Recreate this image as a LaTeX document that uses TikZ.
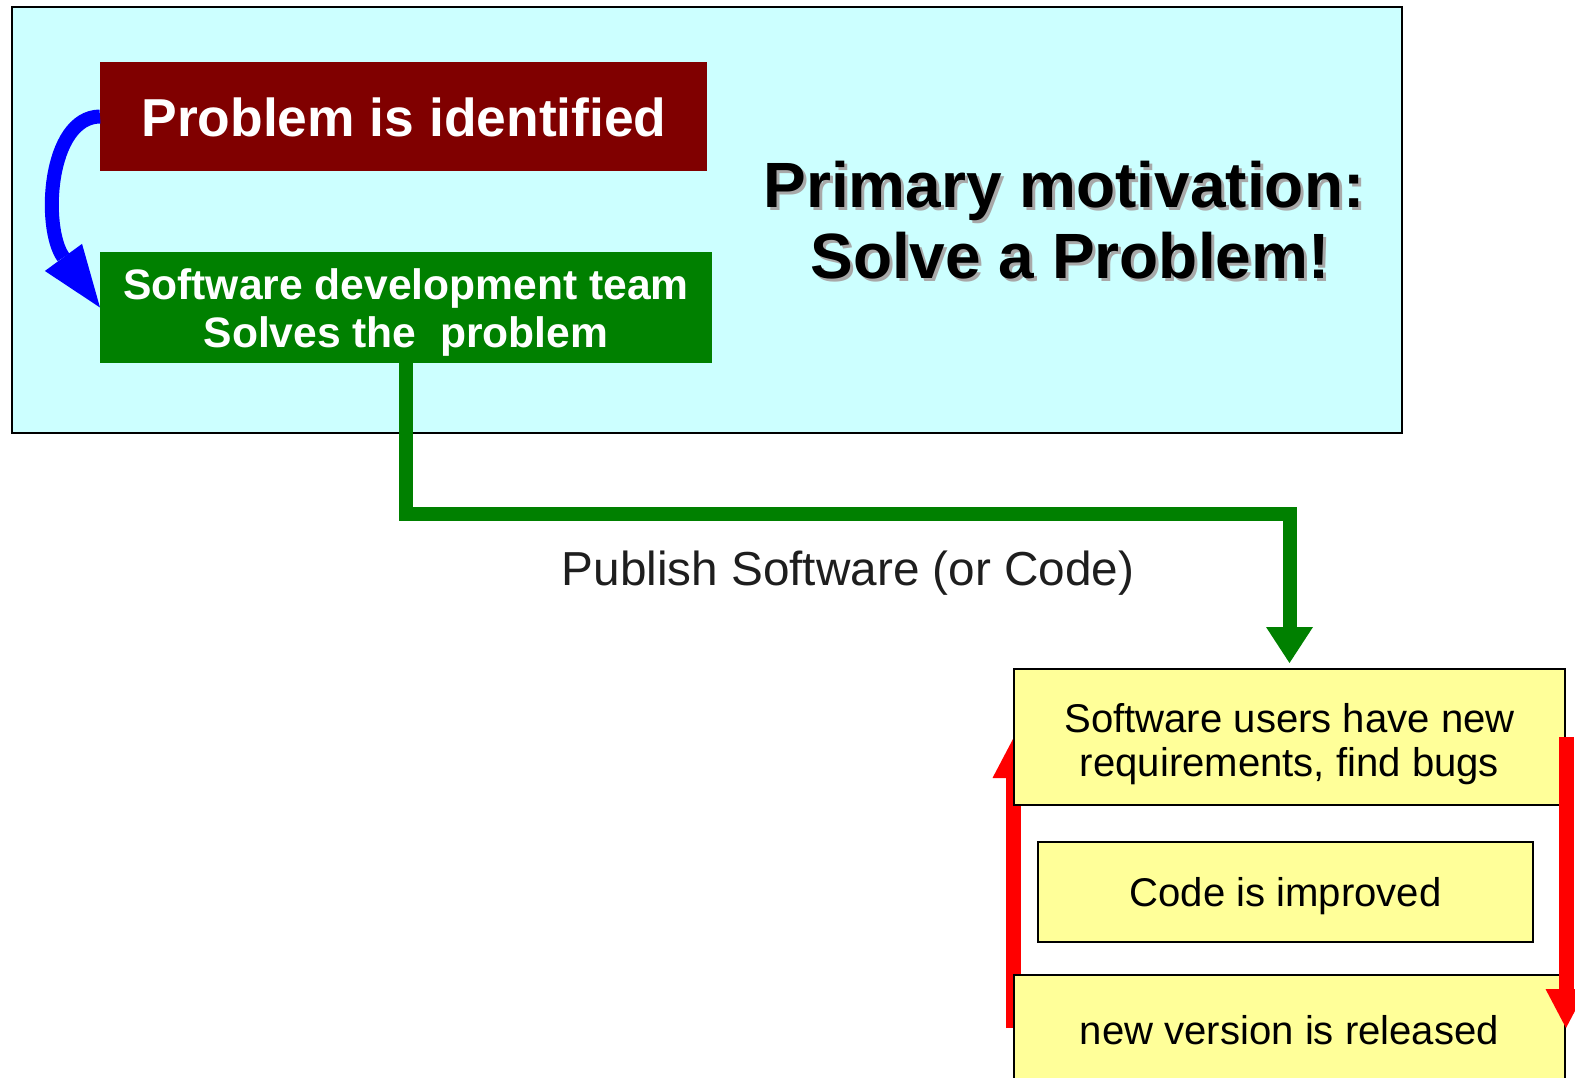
\documentclass[tikz,border=0pt]{standalone}
\usepackage{fontspec}
\setmainfont{Liberation Sans}
\usetikzlibrary{arrows.meta}
\definecolor{cyanbg}{HTML}{CCFFFF}
\definecolor{darkred}{HTML}{800000}
\definecolor{darkgreen}{HTML}{008000}
\definecolor{paleyellow}{HTML}{FFFF99}
\definecolor{pubgrey}{HTML}{1E1E1E}
\definecolor{shadowgrey}{HTML}{A8A8A8}
\tikzset{
  boxshape/.style={rectangle, inner sep=0pt, outer sep=0pt},
  yellowbox/.style={boxshape, draw=black, line width=2pt, fill=paleyellow},
  txt/.style={inner sep=0pt, outer sep=0pt, anchor=base},
  whitebold/.style={txt, text=white, font=\bfseries\fontsize{42.6}{48}\selectfont},
  titletxt/.style={txt, font=\bfseries\fontsize{64}{72}\selectfont},
  yeltxt/.style={txt, font=\fontsize{40.1}{44}\selectfont},
  greenconn/.style={draw=darkgreen, line width=14pt,
    -{Triangle[length=36pt,width=47pt,line width=0pt]}},
  redconn/.style={draw=red, line width=15pt,
    -{Triangle[length=39pt,width=41pt,line width=0pt]}},
  blueconn/.style={draw=blue, line width=14pt,
    -{Triangle[length=62pt,width=46pt,line width=0pt]}},
}
\begin{document}
\begin{tikzpicture}[x=1pt,y=-1pt]
\useasboundingbox (0,0) rectangle (1575,1078);
\fill[white] (0,0) rectangle (1575,1078);

% outer cyan panel
\node[boxshape, draw=black, line width=2pt, fill=cyanbg,
  minimum width=1390pt, minimum height=426pt] (panel) at (707,220) {};

% problem box
\node[boxshape, fill=darkred, minimum width=607pt, minimum height=109pt] (prob) at (403.5,116.5) {};
\node[txt, text=white, font=\bfseries\fontsize{53.4}{60}\selectfont] (probtxt) at (404,137) {Problem is identified};

% team box
\node[boxshape, fill=darkgreen, minimum width=612pt, minimum height=111pt] (team) at (406,307.5) {};
\node[whitebold] (teamtxtA) at (406,299) {Software development team};
\node[whitebold] (teamtxtB) at (406,347) {Solves the\ \ problem};

% title with shadow
\node[titletxt, text=shadowgrey] (titleAs) at (1067,211) {Primary motivation:};
\node[titletxt, text=shadowgrey] (titleBs) at (1073,282) {Solve a Problem!};
\node[titletxt] (titleA) at (1064,208) {Primary motivation:};
\node[titletxt] (titleB) at (1070,279) {Solve a Problem!};

% blue curved arrow
\draw[blueconn] (prob.west) .. controls (48,117) and (42,228) .. (team.west);

% left red arrow (behind boxes)
\coordinate (lbot) at (1013,1028);
\coordinate (ltop) at (1013,739);
\draw[redconn] (lbot) -- (ltop);

% yellow boxes
\node[yellowbox, minimum width=551pt, minimum height=136pt] (users) at (1289.5,737) {};
\node[yeltxt] (usersA) at (1289.5,732) {Software users have new};
\node[yeltxt] (usersB) at (1289.5,776) {requirements, find bugs};

\node[yellowbox, minimum width=495pt, minimum height=100pt] (code) at (1285.5,892) {};
\node[yeltxt] (codetxt) at (1285.5,906) {Code is improved};

\node[yellowbox, minimum width=551pt, minimum height=120pt] (release) at (1289.5,1035) {};
\node[yeltxt] (reltxt) at (1289.5,1044) {new version is released};

% right red arrow (in front)
\coordinate (rtop) at (1566,737);
\coordinate (rbot) at (1566,1028);
\draw[redconn] (rtop) -- (rbot);

% green connector
\coordinate (turn) at (1289.5,514);
\coordinate (gtip) at (1289.5,663);
\draw[greenconn] (team.south) |- (turn) -- (gtip);
\node[txt, text=pubgrey, font=\fontsize{47.7}{54}\selectfont] (publish) at (848,585) {Publish Software (or Code)};
\end{tikzpicture}
\end{document}
